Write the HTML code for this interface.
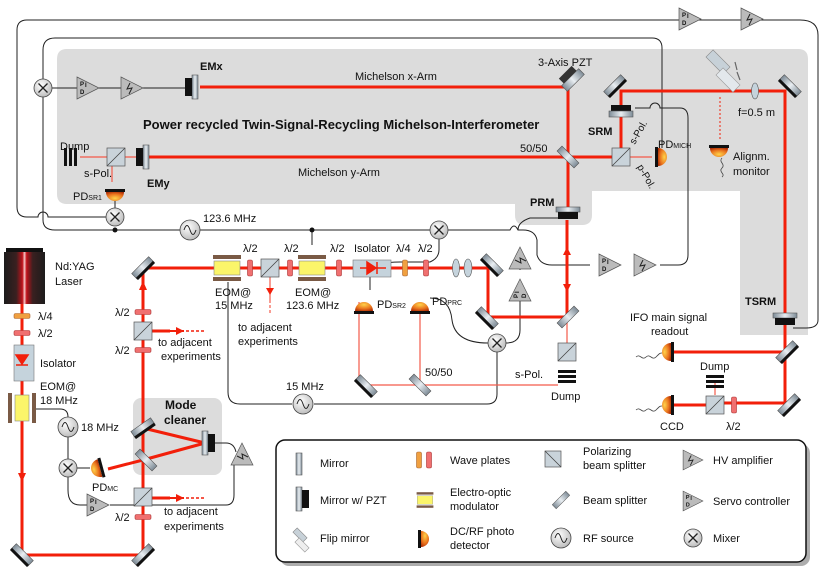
<!DOCTYPE html>
<html><head><meta charset="utf-8"><style>
html,body{margin:0;padding:0;background:#fff}
svg{display:block}
text{font-family:"Liberation Sans",sans-serif;font-size:11px;fill:#111}
.b{font-weight:bold}
.r{stroke:#f21f0a;stroke-width:3;fill:none}
.rt{stroke:#f45a4a;stroke-width:1.2;fill:none}
.k{stroke:#222;stroke-width:1;fill:none}
</style></head><body>
<svg width="830" height="577" viewBox="0 0 830 577" xmlns="http://www.w3.org/2000/svg">
<defs>
<linearGradient id="mg" x1="0" x2="1"><stop offset="0" stop-color="#7d8b96"/><stop offset=".5" stop-color="#e9eef2"/><stop offset="1" stop-color="#7d8b96"/></linearGradient>
<radialGradient id="pd" cx=".5" cy=".3" r=".8"><stop offset="0" stop-color="#ffd24a"/><stop offset=".6" stop-color="#e8701c"/><stop offset="1" stop-color="#a92a05"/></radialGradient>
<radialGradient id="cg" cx=".4" cy=".35" r=".7"><stop offset="0" stop-color="#fff"/><stop offset="1" stop-color="#b9b9b9"/></radialGradient>
<linearGradient id="lg" x1="0" x2="1"><stop offset="0" stop-color="#1c1c1c"/><stop offset=".3" stop-color="#3a2020"/><stop offset=".45" stop-color="#c0121a"/><stop offset=".5" stop-color="#f7c8c8"/><stop offset=".55" stop-color="#c0121a"/><stop offset=".7" stop-color="#3a2020"/><stop offset="1" stop-color="#1c1c1c"/></linearGradient>
<g id="mir"><rect x="-12" y="-4" width="24" height="8" fill="url(#mg)" stroke="#555" stroke-width=".6"/><rect x="-12" y="2" width="24" height="3" fill="#111"/></g>
<g id="bs"><rect x="-12" y="-3.5" width="24" height="7" fill="url(#mg)" stroke="#555" stroke-width=".6"/></g>
<g id="pbs"><rect x="-9" y="-9" width="18" height="18" fill="#c9d3da" stroke="#555" stroke-width=".7"/><line x1="-9" y1="9" x2="9" y2="-9" stroke="#444" stroke-width=".8"/></g>
<g id="mix"><circle r="9" fill="url(#cg)" stroke="#444" stroke-width=".8"/><path d="M-4.5-4.5L4.5 4.5M-4.5 4.5L4.5-4.5" stroke="#222" stroke-width="1.3"/></g>
<g id="rf"><circle r="10" fill="url(#cg)" stroke="#444" stroke-width=".8"/><path d="M-6 0c2-6 4-6 6 0s4 6 6 0" stroke="#222" stroke-width="1" fill="none"/></g>
<g id="pdi"><path d="M-11-11L11 0L-11 11Z" fill="#bbb" stroke="#555" stroke-width=".7"/><text x="-8" y="-2" style="font-size:6px;font-weight:bold">P</text><text x="-3" y="-1" style="font-size:6px;font-weight:bold">I</text><text x="-8" y="6" style="font-size:6px;font-weight:bold">D</text></g>
<g id="hv"><path d="M-11-11L11 0L-11 11Z" fill="#bbb" stroke="#555" stroke-width=".7"/><path d="M-2-5L-5 1L0 0L-3 6" stroke="#222" stroke-width="1" fill="none"/></g>
<g id="wp"><rect x="-2.5" y="-8" width="5" height="16" rx="1.5" fill="#f07070" stroke="#a33" stroke-width=".6"/></g>
<g id="wpo"><rect x="-2.5" y="-8" width="5" height="16" rx="1.5" fill="#f0a040" stroke="#a63" stroke-width=".6"/></g>
<g id="wph"><rect x="-8" y="-2.5" width="16" height="5" rx="1.5" fill="#f07070" stroke="#a33" stroke-width=".6"/></g>
<g id="eom"><rect x="-14" y="-13" width="28" height="4" fill="#7a5a45"/><rect x="-14" y="9" width="28" height="4" fill="#7a5a45"/><rect x="-13" y="-7" width="26" height="14" fill="#fbf56a" stroke="#888" stroke-width=".6"/></g>
<g id="pdd"><path d="M-9 0A9 9 0 0 1 9 0Z" fill="url(#pd)"/><rect x="-10" y="0" width="20" height="3" fill="#111"/></g>
<g id="dump"><rect x="-9" y="-7" width="18" height="3" fill="#111"/><rect x="-9" y="-2" width="18" height="3" fill="#111"/><rect x="-9" y="3" width="18" height="3" fill="#111"/></g>
<g id="pzt"><rect x="-3" y="-12" width="6" height="24" fill="url(#mg)" stroke="#555" stroke-width=".6"/><rect x="3" y="-9" width="7" height="18" fill="#111"/></g>
</defs>

<path d="M67 49H798Q808 49 808 59V335H740V191H592V215Q592 225 582 225H525Q515 225 515 215V204H67Q57 204 57 194V59Q57 49 67 49Z" fill="#dcdcdc"/>
<rect x="133" y="398" width="89" height="77" rx="8" fill="#dcdcdc"/>

<g class="k">
<path d="M106 217H48a5 5 0 0 0 -10 0H27Q17 217 17 207V30Q17 20 27 20H800Q818 20 818 35V320Q818 328 806 328H793"/>
<path d="M43 79V50Q43 38 55 38H652Q662 38 662 48V148"/>
<path d="M43 97V220Q43 230 55 230H180"/>
<path d="M115 208V200"/>
<path d="M52 88H77"/><path d="M99 88H121"/><path d="M143 88H188"/>
<path d="M200 230H312V245M312 230H430"/>
<path d="M448 230H510q4 -8 8 0H523Q535 230 537 240V255Q540 265 552 265H590"/>
<path d="M635 108H650a5 5 0 0 1 10 0H680Q688 108 688 118V255Q688 265 678 265H660"/>
<path d="M518 230Q518 222 530 218H560"/>
<path d="M439 239V250Q439 258 430 262H400Q370 262 370 275V290"/>
<path d="M228 282V392Q228 404 240 404H292M314 404H487Q497 404 497 394V352"/>
<path d="M430 298Q450 298 452 320Q455 343 488 343M506 343Q520 343 520 330V300"/>
<path d="M520 270V262"/>
<path d="M36 409H60Q68 409 68 417"/>
<path d="M68 437V459M68 477V490Q68 505 80 505H88M110 505H226Q234 505 234 495V465"/>
<path d="M215 443H226Q234 443 236 452"/>
<path d="M77 468H90"/>
</g>

<g class="r">
<path d="M200 87H568V210"/>
<path d="M148 157H612"/>
<path d="M621 148V116M621 108V91H785V403H715"/>
<path d="M673 352H785"/>
<path d="M143 268H488V317H567V220"/>
<path d="M22 303V555H143V268"/>
<path d="M143 428L205 443L143 460"/>
<path d="M143 460L108 469"/>
<path d="M143 331H170M143 498H170"/>
<path d="M673 405H706"/>
</g>
<g class="rt">
<path d="M630 157H652"/>
<path d="M80 157H148"/>
<path d="M112 166V182"/>
<path d="M567 317V343"/>
<path d="M359 302V385H420V382M420 385H558M420 385V302"/>
<path d="M270 276V300"/>
<path d="M715 395V380"/>
</g>
<path d="M170 331h14M170 498h14" stroke="#f21f0a" stroke-width="2"/>
<path d="M186 331h20M186 498h20" stroke="#f21f0a" stroke-width="1.5" stroke-dasharray="3 2"/>
<path d="M270 300v15" stroke="#f45a4a" stroke-width="1.2" stroke-dasharray="3 2"/>
<path d="M720 97v42" stroke="#f21f0a" stroke-width="1" stroke-dasharray="2 2"/>
<g fill="#f21f0a"><path d="M139 290l4-9 4 9z"/><path d="M18 473l4 9 4-9z"/><path d="M563 255l4-8 4 8z"/><path d="M563 284l4 8 4-8z"/><path d="M563 345l4 7 4-7z"/><path d="M176 327l8 4-8 4z"/><path d="M176 494l8 4-8 4z"/><path d="M266 288l4 7 4-7z"/></g>

<rect x="6" y="248" width="37" height="4" fill="#111"/>
<rect x="4" y="252" width="41" height="52" fill="url(#lg)"/>
<text x="55" y="270">Nd:YAG</text><text x="55" y="285">Laser</text>
<use href="#wpo" transform="translate(22,316) rotate(90)"/><text x="38" y="320">λ/4</text>
<use href="#wph" x="22" y="333"/><text x="38" y="337">λ/2</text>
<rect x="14" y="345" width="20" height="36" fill="#c5d3dc" stroke="#777" stroke-width=".6"/>
<path d="M16 355h12l-6 9z M16 365h12" fill="#f21f0a" stroke="#f21f0a" stroke-width="1.5"/>
<text x="40" y="367">Isolator</text>
<text x="40" y="390">EOM@</text><text x="40" y="404">18 MHz</text>
<rect x="8" y="393" width="4" height="30" fill="#7a5a45"/><rect x="32" y="393" width="4" height="30" fill="#7a5a45"/><rect x="15" y="395" width="14" height="26" fill="#fbf56a" stroke="#888" stroke-width=".6"/>
<use href="#rf" x="68" y="427"/><text x="81" y="431">18 MHz</text>
<use href="#mix" x="68" y="468"/>
<g transform="translate(100,468) rotate(-105)"><use href="#pdd"/></g>
<text x="92" y="491">PD<tspan style="font-size:7px">MC</tspan></text>
<use href="#pdi" x="98" y="505"/>
<use href="#mir" transform="translate(22,555) rotate(45)"/>
<use href="#mir" transform="translate(143,555) rotate(-45)"/>
<use href="#mir" transform="translate(143,268) rotate(-45)"/>
<use href="#wph" x="143" y="312"/><text x="115" y="316">λ/2</text>
<use href="#pbs" x="143" y="331"/>
<use href="#wph" x="143" y="350"/><text x="115" y="354">λ/2</text>
<text x="158" y="346">to adjacent</text><text x="161" y="360">experiments</text>
<text x="165" y="409" class="b" style="font-size:12px">Mode</text><text x="164" y="424" class="b" style="font-size:12px">cleaner</text>
<use href="#mir" transform="translate(143,428) rotate(-35)"/>
<use href="#bs" transform="translate(146,460) rotate(45)"/>
<g transform="translate(205,443)"><use href="#pzt"/></g>
<use href="#hv" transform="translate(242,454) rotate(-90)"/>
<use href="#pbs" x="143" y="497"/>
<use href="#wph" x="143" y="517"/><text x="115" y="521">λ/2</text>
<text x="164" y="515">to adjacent</text><text x="164" y="530">experiments</text>

<use href="#eom" x="227" y="268"/><text x="215" y="296">EOM@</text><text x="215" y="309">15 MHz</text>
<use href="#wp" x="250" y="268"/><text x="243" y="252">λ/2</text>
<use href="#pbs" x="270" y="268"/>
<use href="#wp" x="290" y="268"/><text x="284" y="252">λ/2</text>
<use href="#eom" x="312" y="268"/><text x="295" y="296">EOM@</text><text x="286" y="309">123.6 MHz</text>
<text x="238" y="331">to adjacent</text><text x="238" y="345">experiments</text>
<use href="#wp" x="339" y="268"/><text x="330" y="252">λ/2</text>
<rect x="353" y="260" width="38" height="17" fill="#c5d3dc" stroke="#777" stroke-width=".6"/>
<path d="M360 268h26M367 262v12l9-6z M377 262v12" fill="#f21f0a" stroke="#f21f0a" stroke-width="1.5"/>
<text x="354" y="252">Isolator</text>
<use href="#wpo" x="405" y="268"/><text x="396" y="252">λ/4</text>
<use href="#wp" x="426" y="268"/><text x="418" y="252">λ/2</text>
<ellipse cx="456" cy="268" rx="3.5" ry="9" fill="#c5d3dc" stroke="#555" stroke-width=".6"/><ellipse cx="468" cy="268" rx="4" ry="9" fill="#c5d3dc" stroke="#555" stroke-width=".6"/>
<use href="#mir" transform="translate(492,265) rotate(45)"/>
<use href="#mir" transform="translate(487,318) rotate(45)"/>
<use href="#bs" transform="translate(568,317) rotate(-45)"/>
<use href="#hv" transform="translate(520,258) rotate(-90)"/>
<use href="#pdi" transform="translate(520,290) rotate(-90)"/>
<use href="#mix" x="439" y="230"/>
<use href="#mix" x="497" y="343"/>
<circle cx="115" cy="230" r="2.5" fill="#111"/><circle cx="312" cy="230" r="2.5" fill="#111"/>
<use href="#rf" x="190" y="230"/><text x="203" y="222">123.6 MHz</text>
<use href="#rf" x="303" y="404"/><text x="286" y="390">15 MHz</text>
<use href="#pdd" x="364" y="311"/><text x="377" y="308">PD<tspan style="font-size:7px">SR2</tspan></text>
<use href="#pdd" x="420" y="311"/><text x="432" y="305">PD<tspan style="font-size:7px">PRC</tspan></text>
<use href="#mir" transform="translate(366,386) rotate(45)"/>
<use href="#bs" transform="translate(420,385) rotate(45)"/>
<text x="425" y="376">50/50</text>
<use href="#pbs" x="567" y="352"/><text x="515" y="378">s-Pol.</text>
<use href="#dump" x="567" y="377"/><text x="551" y="400">Dump</text>
<use href="#pdi" x="610" y="265"/><use href="#hv" x="645" y="265"/>

<text x="200" y="70" class="b">EMx</text>
<g transform="translate(195,87)"><use href="#pzt" transform="rotate(180)"/></g>
<use href="#mix" x="43" y="88"/>
<use href="#pdi" x="88" y="88"/><use href="#hv" x="132" y="88"/>
<text x="355" y="80">Michelson x-Arm</text>
<text x="143" y="129" class="b" style="font-size:13px">Power recycled Twin-Signal-Recycling Michelson-Interferometer</text>
<text x="60" y="150">Dump</text><use href="#dump" transform="translate(70,157) rotate(90)"/>
<use href="#pbs" x="116" y="157"/>
<g transform="translate(146,157)"><use href="#pzt" transform="rotate(180)"/></g>
<text x="147" y="187" class="b">EMy</text>
<text x="84" y="177">s-Pol.</text>
<use href="#pdd" transform="translate(115,192) rotate(180)"/>
<text x="73" y="200">PD<tspan style="font-size:7px">SR1</tspan></text>
<use href="#mix" x="115" y="217"/>
<text x="298" y="176">Michelson y-Arm</text>
<g transform="translate(573,80) rotate(-45)"><rect x="-12" y="-4" width="24" height="8" fill="url(#mg)" stroke="#555" stroke-width=".6"/><rect x="-9" y="-11" width="18" height="7" fill="#333"/></g>
<text x="538" y="66">3-Axis PZT</text>
<use href="#bs" transform="translate(568,157) rotate(45)"/><text x="520" y="152">50/50</text>
<g transform="translate(568,212)"><rect x="-12" y="-5" width="24" height="5" fill="url(#mg)" stroke="#555" stroke-width=".6"/><rect x="-10" y="0" width="20" height="7" fill="#111"/></g>
<text x="530" y="206" class="b">PRM</text>
<use href="#mir" transform="translate(615,86) rotate(-45)"/>
<g transform="translate(621,112)"><rect x="-10" y="-7" width="20" height="6" fill="#111"/><rect x="-12" y="-1" width="24" height="6" fill="url(#mg)" stroke="#555" stroke-width=".6"/></g>
<text x="588" y="135" class="b">SRM</text>
<use href="#pbs" x="621" y="157"/>
<text x="626" y="142" transform="rotate(-60 633 136)" style="font-size:10px">s-Pol.</text>
<text x="634" y="172" transform="rotate(60 640 172)" style="font-size:10px">p-Pol.</text>
<use href="#pdd" transform="translate(658,157) rotate(90)"/>
<text x="658" y="148">PD<tspan style="font-size:7px">MICH</tspan></text>
<g transform="translate(718,62) rotate(45)"><rect x="-12" y="-5" width="24" height="10" fill="#c7d1d8" stroke="#888" stroke-width=".6"/></g>
<g transform="translate(728,80) rotate(45)"><rect x="-12" y="-5" width="24" height="10" fill="#e3e8ec" stroke="#999" stroke-width=".6"/></g>
<path d="M735 62l2 8M737 72l3 8" stroke="#666" stroke-width="1.2"/>
<ellipse cx="755" cy="91" rx="3.5" ry="8" fill="#c5d3dc" stroke="#555" stroke-width=".6"/>
<text x="738" y="116">f=0.5 m</text>
<use href="#mir" transform="translate(790,86) rotate(45)"/>
<use href="#pdd" transform="translate(719,148) rotate(180)"/>
<text x="733" y="160">Alignm.</text><text x="733" y="175">monitor</text>
<path d="M722 158c-4 4 4 6 0 10s4 6 0 9" stroke="#444" fill="none" stroke-width=".8"/>
<use href="#pdi" x="690" y="19"/><use href="#hv" x="752" y="19"/>
<g transform="translate(785,318)"><rect x="-12" y="-5" width="24" height="5" fill="url(#mg)" stroke="#555" stroke-width=".6"/><rect x="-10" y="0" width="20" height="7" fill="#111"/></g>
<text x="745" y="305" class="b">TSRM</text>
<use href="#mir" transform="translate(787,352) rotate(-45)"/>
<use href="#mir" transform="translate(789,405) rotate(-45)"/>
<text x="630" y="321">IFO main signal</text><text x="651" y="335">readout</text>
<use href="#pdd" transform="translate(671,352) rotate(-90)"/>
<path d="M636 357c4-4 6 4 10 0s6 4 10 0s4-4 6-4" stroke="#444" fill="none" stroke-width=".8"/>
<use href="#pdd" transform="translate(671,405) rotate(-90)"/>
<path d="M636 410c4-4 6 4 10 0s6 4 10 0s4-4 6-4" stroke="#444" fill="none" stroke-width=".8"/>
<text x="660" y="430">CCD</text>
<use href="#pbs" x="715" y="405"/>
<use href="#dump" x="715" y="382"/><text x="700" y="370">Dump</text>
<use href="#wp" x="734" y="405"/><text x="726" y="430">λ/2</text>

<rect x="280" y="444" width="530" height="122" rx="9" fill="#777" opacity=".6"/>
<rect x="276" y="440" width="530" height="122" rx="9" fill="#fff" stroke="#111" stroke-width="1.5"/>
<g style="font-size:11px">
<rect x="296" y="453" width="6" height="22" fill="url(#mg)" stroke="#555" stroke-width=".6"/><text x="320" y="467">Mirror</text>
<g transform="translate(299,499)"><use href="#pzt"/></g><text x="320" y="504">Mirror w/ PZT</text>
<g transform="translate(300,535) rotate(45)"><rect x="-7" y="-3" width="14" height="6" fill="#c7d1d8" stroke="#888" stroke-width=".6"/></g>
<g transform="translate(302,545) rotate(45)"><rect x="-7" y="-3" width="14" height="6" fill="#eee" stroke="#999" stroke-width=".6"/></g>
<text x="320" y="542">Flip mirror</text>
<use href="#wpo" x="419" y="460"/><use href="#wp" x="429" y="460"/><text x="450" y="464">Wave plates</text>
<use href="#eom" transform="translate(425,500) scale(.6)"/><text x="450" y="496">Electro-optic</text><text x="450" y="510">modulator</text>
<g transform="translate(423,539)"><rect x="-5" y="-9" width="3" height="18" fill="#111"/><path d="M-2-8A8 8 0 0 1-2 8Z" fill="url(#pd)"/></g>
<text x="450" y="535">DC/RF photo</text><text x="450" y="549">detector</text>
<g transform="translate(553,459)"><rect x="-8" y="-8" width="16" height="16" fill="#c9d3da" stroke="#555" stroke-width=".7"/><line x1="-8" y1="-8" x2="8" y2="8" stroke="#444" stroke-width=".8"/></g>
<text x="583" y="455">Polarizing</text><text x="583" y="469">beam splitter</text>
<use href="#bs" transform="translate(561,500) rotate(-45) scale(.8)"/><text x="583" y="504">Beam splitter</text>
<use href="#rf" x="561" y="538"/><text x="583" y="542">RF source</text>
<use href="#hv" transform="translate(693,460) scale(.9)"/><text x="713" y="464">HV amplifier</text>
<use href="#pdi" transform="translate(693,501) scale(.9)"/><text x="713" y="505">Servo controller</text>
<use href="#mix" x="693" y="538"/><text x="713" y="542">Mixer</text>
</g>
</svg>
</body></html>
